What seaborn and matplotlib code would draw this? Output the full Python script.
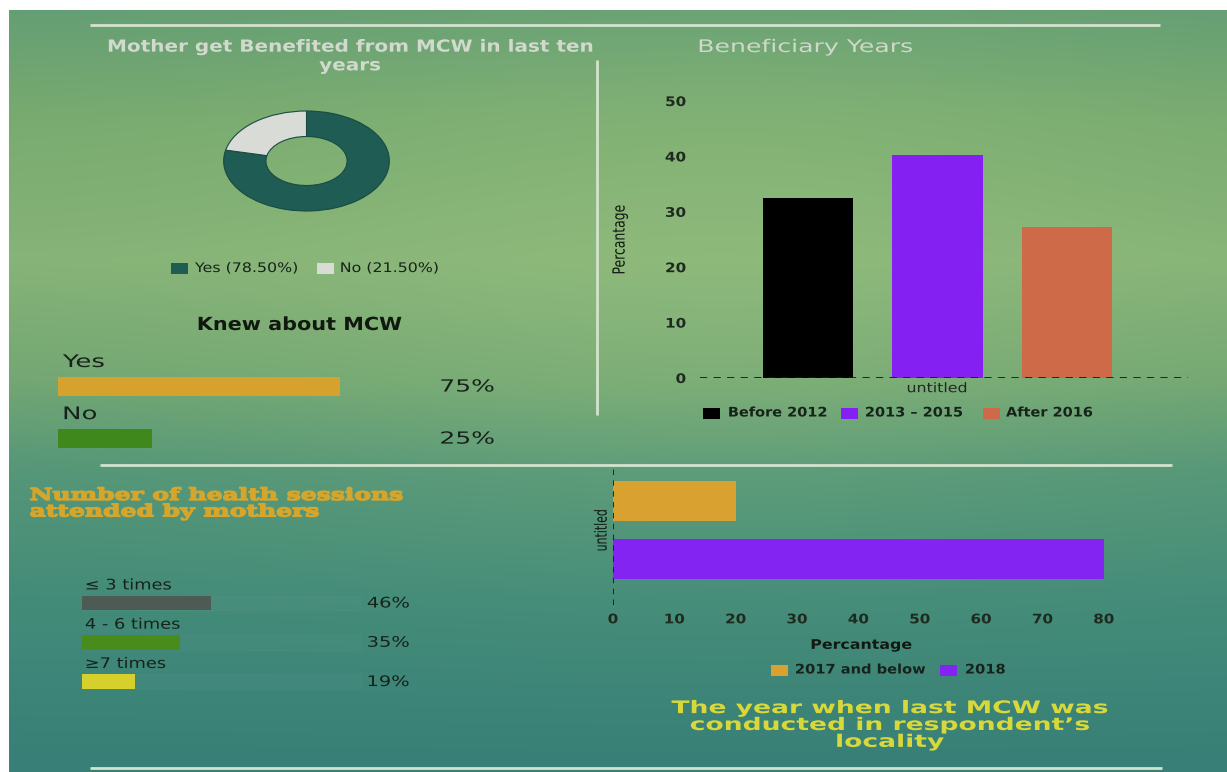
import numpy as np
import pandas as pd
import matplotlib
matplotlib.use("Agg")
import matplotlib.pyplot as plt
import seaborn as sns
from matplotlib.patches import Rectangle
from matplotlib.colors import to_rgb
from matplotlib.patheffects import AbstractPathEffect
from matplotlib.transforms import Affine2D
from matplotlib import font_manager

# ---------------------------------------------------------------- data
benefit_labels = ["Yes", "No"]
benefit_values = [78.5, 21.5]
benefit_colors = ["#1e5c54", "#d9dcd6"]

knew_labels = ["Yes", "No"]
knew_values = [75, 25]
knew_colors = ["#d6a22e", "#3f881c"]

ben_group = "untitled"
ben_periods = ["Before 2012", "2013 \u2013 2015", "After 2016"]
ben_values = [32.5, 40.3, 27.3]
ben_colors = ["#000000", "#8420f2", "#cf6a48"]
ben_yticks = [0, 10, 20, 30, 40, 50]

session_labels = ["\u2264 3 times", "4 - 6 times", "\u22657 times"]
session_values = [46, 35, 19]
session_colors = ["#4e5a54", "#4a8c1c", "#d5d02c"]

last_group = "untitled"
last_years = ["2017 and below", "2018"]
last_values = [20, 80]
last_colors = ["#d9a130", "#8424f2"]
last_xticks = [0, 10, 20, 30, 40, 50, 60, 70, 80]

# ---------------------------------------------------------------- setup
W, H, DPI = 1227, 772, 100
sns.set_theme(style="white")
plt.rcParams["font.family"] = ["DejaVu Sans"]

DARK = "#17231a"
LINE = "#d3e3cd"
NOEDGE = dict(edgecolor="none", linewidth=0)


def has_font(name):
    try:
        font_manager.findfont(name, fallback_to_default=False)
        return True
    except Exception:
        return False


NARROW = next((f for f in ["Liberation Sans Narrow", "DejaVu Sans Condensed"] if has_font(f)), "DejaVu Sans")


class Stretch(AbstractPathEffect):
    """Rescale glyph outlines about an anchor of each text line; optional outline to embolden."""

    def __init__(self, sx=1.0, sy=1.0, anchor="center", lw=0.0):
        super().__init__()
        self.sx, self.sy, self.anchor, self.lw = sx, sy, anchor, lw

    def draw_path(self, renderer, gc, tpath, affine, rgbFace=None):
        ext = tpath.get_extents(affine)
        x0 = {"left": ext.x0, "right": ext.x1}.get(self.anchor, 0.5 * (ext.x0 + ext.x1))
        y0 = 0.5 * (ext.y0 + ext.y1)
        aff = affine + Affine2D().translate(-x0, -y0).scale(self.sx, self.sy).translate(x0, y0)
        gc0 = renderer.new_gc()
        gc0.copy_properties(gc)
        if self.lw > 0 and rgbFace is not None:
            gc0.set_linewidth(self.lw)
            gc0.set_foreground(rgbFace)
            gc0.set_joinstyle("round")
        renderer.draw_path(gc0, tpath, aff, rgbFace)
        gc0.restore()


fig = plt.figure(figsize=(W / DPI, H / DPI), dpi=DPI, facecolor="white")


def px_axes(x0, y0, x1, y1, **kw):
    return fig.add_axes([x0 / W, 1 - y1 / H, (x1 - x0) / W, (y1 - y0) / H], **kw)


def ftext(x, y, s, sx=1.0, anchor="center", lw=0.0, **kw):
    return fig.text(x / W, 1 - y / H, s, path_effects=[Stretch(sx, 1.0, anchor, lw)], **kw)


def bare(ax):
    for sp in ax.spines.values():
        sp.set_visible(False)
    ax.set_facecolor("none")


def stretch_ticks(labels, sx, anchor, sy=1.0):
    for t in labels:
        t.set_path_effects([Stretch(sx, sy, anchor)])


# ---------------------------------------------------------------- background
bg = fig.add_axes([0, 0, 1, 1], zorder=-10)
bg.set_xlim(0, W)
bg.set_ylim(H, 0)
bg.axis("off")

stops_y = [10, 120, 260, 380, 470, 600, 772]
stops_c = ["#649e74", "#78aa6f", "#86b377", "#72a673", "#549678", "#438b79", "#377f77"]
ys = np.arange(10, H)
xs = np.arange(9, W)
rgb = np.array([to_rgb(c) for c in stops_c])
col = np.stack([np.interp(ys, stops_y, rgb[:, k]) for k in range(3)], axis=-1)
img = np.repeat(col[:, None, :], len(xs), axis=1)
X, Y = np.meshgrid(xs, ys)
glow = np.exp(-(((X - 720) / 330) ** 2 + ((Y - 250) / 170) ** 2) / 2)[..., None]
img = img * (1 - 0.35 * glow) + np.array(to_rgb("#9cc583")) * 0.35 * glow
bg.imshow(img, extent=(9, W, H, 10), aspect="auto", interpolation="bilinear", zorder=0)

for (xa, xb), (ya, yb) in [((90, 1160), (25, 25)), ((100, 1172), (465, 465)),
                           ((90, 1162), (768, 768)), ((597, 597), (60, 415))]:
    bg.plot([xa, xb], [ya, yb], color=LINE, lw=2, solid_capstyle="butt", zorder=1)


def legend_row(y, handle_x, text_x, labels, colors, **kw):
    """Colour swatches with their labels along one row (pixel positions)."""
    for hx, tx, lab, c in zip(handle_x, text_x, labels, colors):
        bg.add_patch(Rectangle((hx, y - 5.5), 17, 11, facecolor=c, edgecolor="none", zorder=3))
        ftext(tx, y, lab, ha="left", va="center", color=DARK, anchor="left", **kw)


# ---------------------------------------------------------------- donut
ftext(350, 56, "Mother get Benefited from MCW in last ten\nyears", ha="center", va="center",
      fontsize=12, fontweight="bold", color="#d2dacd", linespacing=1.05, sx=1.2)
ax_d = px_axes(222, 110, 391, 212)
ax_d.pie(benefit_values, colors=benefit_colors, startangle=90, counterclock=False, radius=1,
         wedgeprops=dict(width=0.51, edgecolor="#1a4a42", linewidth=0.8))
ax_d.set_aspect("auto")
ax_d.set_xlim(-1.02, 1.02)
ax_d.set_ylim(-1.02, 1.02)
ax_d.axis("off")
legend_row(268.5, [171, 317], [195, 340],
           [f"{l} ({v:.2f}%)" for l, v in zip(benefit_labels, benefit_values)], benefit_colors,
           fontsize=9.5, sx=1.2)

# ---------------------------------------------------------------- knew about MCW
ftext(299, 325, "Knew about MCW", ha="center", va="center", fontsize=13, fontweight="bold",
      color="#101810", sx=1.15)
ax_k = px_axes(58, 350, 434, 460)
knew_df = pd.DataFrame({"answer": knew_labels, "pct": knew_values})
sns.barplot(data=knew_df, y="answer", x="pct", hue="answer", palette=knew_colors, orient="h",
            width=0.375, legend=False, ax=ax_k, saturation=1, **NOEDGE)
ax_k.set_xlim(0, 100)
ax_k.set_ylim(1.41, -0.70)
ax_k.axis("off")
for i, (lab, v) in enumerate(zip(knew_labels, knew_values)):
    ax_k.text(1.3, i - 0.47, lab, ha="left", va="center", fontsize=12.5, color=DARK, clip_on=False,
              path_effects=[Stretch(1.5, 1.0, "left")])
    ax_k.text(101.6, i, f"{v}%", ha="left", va="center", fontsize=12, color=DARK, clip_on=False,
              path_effects=[Stretch(1.5, 1.0, "left")])

# ---------------------------------------------------------------- beneficiary years
ftext(698, 47, "Beneficiary Years", ha="left", va="center", fontsize=12.5, color="#cfd9ca",
      sx=1.45, anchor="left")
ax_b = px_axes(700, 101, 1188, 378)
ben_df = pd.DataFrame({"group": [ben_group] * len(ben_periods), "period": ben_periods, "pct": ben_values})
sns.barplot(data=ben_df, x="group", y="pct", hue="period", palette=ben_colors, gap=0.3,
            saturation=1, legend=False, ax=ax_b, **NOEDGE)
bare(ax_b)
ax_b.set_ylim(0, 50)
ax_b.set_xlim(-0.489, 0.516)
ax_b.set_yticks(ben_yticks)
ax_b.set_yticklabels([str(t) for t in ben_yticks], fontsize=9.5, fontweight="bold", color="#1f2a1f")
ax_b.tick_params(axis="y", length=0, pad=10)
ax_b.tick_params(axis="x", length=0, pad=3, labelsize=9.5, labelcolor="#1f2a1f")
stretch_ticks(ax_b.get_yticklabels(), 1.15, "right")
stretch_ticks(ax_b.get_xticklabels(), 1.2, "center")
ax_b.set_xlabel("")
ax_b.set_ylabel("Percantage", family=NARROW, fontsize=10.5, color="#111811",
                path_effects=[Stretch(1.15, 0.85, "center")])
ax_b.yaxis.set_label_coords((627 - 700) / 488, 0.5)
ax_b.axhline(0, color="#142014", lw=1.3, ls=(0, (4, 3.5)), zorder=5)
legend_row(413, [703, 841, 983], [728, 865, 1006], ben_periods, ben_colors,
           fontsize=9.5, fontweight="bold", sx=1.1)

# ---------------------------------------------------------------- health sessions
ftext(30, 487, "Number of health sessions\nattended by mothers", ha="left", va="top",
      family="DejaVu Serif", fontsize=12, fontweight="bold", color="#d6a62c", linespacing=0.95,
      sx=1.5, anchor="left", lw=1.0)
ax_s = px_axes(82, 570, 362, 700)
sess_df = pd.DataFrame({"sessions": session_labels, "pct": session_values})
sns.barplot(data=sess_df, y="sessions", x=[100] * len(session_labels), orient="h", width=0.37,
            color="white", alpha=0.025, ax=ax_s, edgecolor=(1, 1, 1, 0.06), linewidth=0.8)
sns.barplot(data=sess_df, y="sessions", x="pct", hue="sessions", palette=session_colors, orient="h",
            width=0.37, legend=False, saturation=1, ax=ax_s, **NOEDGE)
ax_s.set_xlim(0, 100)
ax_s.set_ylim(2.47, -0.84)
ax_s.axis("off")
for i, (lab, v) in enumerate(zip(session_labels, session_values)):
    ax_s.text(1.1, i - 0.46, lab, ha="left", va="center", fontsize=10.5, color=DARK, clip_on=False,
              path_effects=[Stretch(1.22, 1.0, "left")])
    ax_s.text(101.8, i, f"{v}%", ha="left", va="center", fontsize=10.5, color=DARK, clip_on=False,
              path_effects=[Stretch(1.33, 1.0, "left")])

# ---------------------------------------------------------------- last MCW year
ax_l = px_axes(613, 465, 1110, 605)
last_df = pd.DataFrame({"group": [last_group] * len(last_years), "year": last_years, "pct": last_values})
sns.barplot(data=last_df, y="group", x="pct", hue="year", palette=last_colors, orient="h", gap=0.3,
            saturation=1, legend=False, ax=ax_l, **NOEDGE)
bare(ax_l)
ax_l.set_xlim(0, 81)
ax_l.set_ylim(0.517, -0.448)
ax_l.set_xticks(last_xticks)
ax_l.set_xticklabels([str(t) for t in last_xticks], fontsize=9.5, fontweight="bold", color="#1f2a1f")
ax_l.tick_params(axis="x", length=0, pad=6)
ax_l.tick_params(axis="y", length=0, pad=3, labelsize=10.5, labelcolor="#111811")
stretch_ticks(ax_l.get_xticklabels(), 1.15, "center")
for t in ax_l.get_yticklabels():
    t.set_rotation(90)
    t.set_va("center")
    t.set_family(NARROW)
stretch_ticks(ax_l.get_yticklabels(), 1.15, "center", sy=0.75)
ax_l.set_ylabel("")
ax_l.set_xlabel("Percantage", fontsize=9.5, fontweight="bold", color="#111811", labelpad=9,
                path_effects=[Stretch(1.2, 1.0, "center")])
ax_l.axvline(0, color="#142014", lw=1.3, ls=(0, (3, 3)), zorder=5)
legend_row(670, [771, 940], [795, 965], last_years, last_colors, fontsize=9.5, fontweight="bold", sx=1.11)

ftext(890, 725, "The year when last MCW was\nconducted in respondent\u2019s\nlocality", ha="center", va="center",
      fontsize=12.5, fontweight="bold", color="#d9d83a", linespacing=0.92, sx=1.53)

fig.savefig("out.png", dpi=DPI, facecolor="white")
